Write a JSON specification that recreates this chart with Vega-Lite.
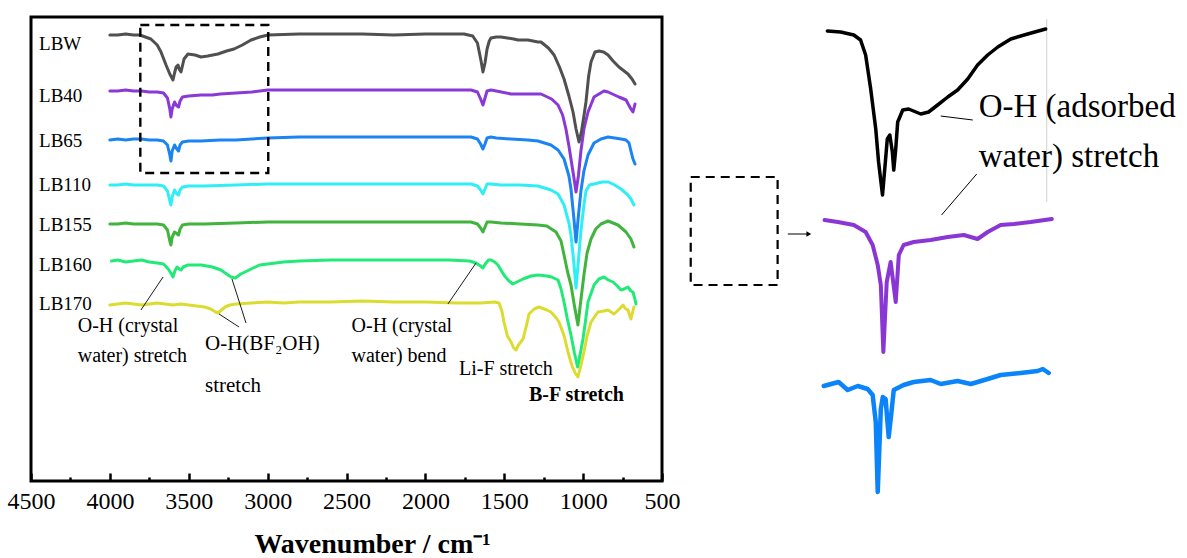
{
"$schema": "https://vega.github.io/schema/vega-lite/v6.json",
"background": "white",
"padding": {"left": 5, "top": 15, "right": 0, "bottom": 0},
"config": {"font": "Liberation Serif", "view": {"stroke": "black", "strokeWidth": 3}, "concat": {"spacing": 0}, "axis": {"labelFont": "Liberation Serif", "titleFont": "Liberation Serif"}},
"resolve": {"scale": {"color": "independent", "strokeWidth": "independent"}},
"datasets": {
"main": [
{"s":"LB170","x":4000,"y":176},{"s":"LB170","x":3950,"y":177},{"s":"LB170","x":3900,"y":178},{"s":"LB170","x":3850,"y":177},{"s":"LB170","x":3800,"y":176},{"s":"LB170","x":3750,"y":177},{"s":"LB170","x":3700,"y":178},{"s":"LB170","x":3650,"y":177},{"s":"LB170","x":3600,"y":176},{"s":"LB170","x":3550,"y":177},{"s":"LB170","x":3500,"y":176},{"s":"LB170","x":3450,"y":175},{"s":"LB170","x":3400,"y":174},{"s":"LB170","x":3360,"y":172},{"s":"LB170","x":3330,"y":169},{"s":"LB170","x":3315,"y":168},{"s":"LB170","x":3300,"y":170},{"s":"LB170","x":3270,"y":174},{"s":"LB170","x":3240,"y":176},{"s":"LB170","x":3200,"y":177},{"s":"LB170","x":3100,"y":178},{"s":"LB170","x":3000,"y":179},{"s":"LB170","x":2900,"y":178},{"s":"LB170","x":2800,"y":179},{"s":"LB170","x":2600,"y":179},{"s":"LB170","x":2400,"y":180},{"s":"LB170","x":2200,"y":179},{"s":"LB170","x":2000,"y":179},{"s":"LB170","x":1800,"y":178},{"s":"LB170","x":1650,"y":178},{"s":"LB170","x":1560,"y":179},{"s":"LB170","x":1533,"y":178},{"s":"LB170","x":1515,"y":170},{"s":"LB170","x":1502,"y":159},{"s":"LB170","x":1480,"y":145},{"s":"LB170","x":1457,"y":139},{"s":"LB170","x":1440,"y":133},{"s":"LB170","x":1426,"y":131},{"s":"LB170","x":1410,"y":136},{"s":"LB170","x":1381,"y":142},{"s":"LB170","x":1360,"y":155},{"s":"LB170","x":1343,"y":167},{"s":"LB170","x":1310,"y":172},{"s":"LB170","x":1280,"y":174},{"s":"LB170","x":1230,"y":171},{"s":"LB170","x":1204,"y":169},{"s":"LB170","x":1170,"y":163},{"s":"LB170","x":1153,"y":159},{"s":"LB170","x":1120,"y":145},{"s":"LB170","x":1096,"y":129},{"s":"LB170","x":1070,"y":115},{"s":"LB170","x":1050,"y":108},{"s":"LB170","x":1033,"y":104},{"s":"LB170","x":1015,"y":115},{"s":"LB170","x":995,"y":129},{"s":"LB170","x":975,"y":145},{"s":"LB170","x":950,"y":159},{"s":"LB170","x":906,"y":169},{"s":"LB170","x":870,"y":170},{"s":"LB170","x":842,"y":171},{"s":"LB170","x":804,"y":167},{"s":"LB170","x":770,"y":172},{"s":"LB170","x":747,"y":176},{"s":"LB170","x":730,"y":172},{"s":"LB170","x":716,"y":171},{"s":"LB170","x":697,"y":162},{"s":"LB170","x":678,"y":174},
{"s":"LB160","x":3990,"y":220},{"s":"LB160","x":3950,"y":221},{"s":"LB160","x":3900,"y":219},{"s":"LB160","x":3850,"y":220},{"s":"LB160","x":3800,"y":221},{"s":"LB160","x":3750,"y":219},{"s":"LB160","x":3700,"y":218},{"s":"LB160","x":3660,"y":217},{"s":"LB160","x":3630,"y":212},{"s":"LB160","x":3610,"y":207},{"s":"LB160","x":3600,"y":204},{"s":"LB160","x":3588,"y":210},{"s":"LB160","x":3574,"y":214},{"s":"LB160","x":3560,"y":212},{"s":"LB160","x":3549,"y":211},{"s":"LB160","x":3535,"y":214},{"s":"LB160","x":3505,"y":216},{"s":"LB160","x":3422,"y":216},{"s":"LB160","x":3350,"y":214},{"s":"LB160","x":3296,"y":211},{"s":"LB160","x":3260,"y":207},{"s":"LB160","x":3232,"y":204},{"s":"LB160","x":3205,"y":203},{"s":"LB160","x":3170,"y":207},{"s":"LB160","x":3130,"y":210},{"s":"LB160","x":3105,"y":212},{"s":"LB160","x":3050,"y":216},{"s":"LB160","x":2998,"y":217},{"s":"LB160","x":2900,"y":219},{"s":"LB160","x":2800,"y":220},{"s":"LB160","x":2600,"y":221},{"s":"LB160","x":2400,"y":221},{"s":"LB160","x":2200,"y":221},{"s":"LB160","x":2000,"y":221},{"s":"LB160","x":1850,"y":221},{"s":"LB160","x":1720,"y":220},{"s":"LB160","x":1679,"y":218},{"s":"LB160","x":1650,"y":215},{"s":"LB160","x":1635,"y":213},{"s":"LB160","x":1620,"y":217},{"s":"LB160","x":1600,"y":221},{"s":"LB160","x":1584,"y":221},{"s":"LB160","x":1560,"y":219},{"s":"LB160","x":1540,"y":216},{"s":"LB160","x":1502,"y":206},{"s":"LB160","x":1470,"y":200},{"s":"LB160","x":1445,"y":197},{"s":"LB160","x":1420,"y":199},{"s":"LB160","x":1381,"y":202},{"s":"LB160","x":1330,"y":205},{"s":"LB160","x":1286,"y":206},{"s":"LB160","x":1230,"y":205},{"s":"LB160","x":1200,"y":204},{"s":"LB160","x":1159,"y":201},{"s":"LB160","x":1140,"y":192},{"s":"LB160","x":1121,"y":179},{"s":"LB160","x":1100,"y":162},{"s":"LB160","x":1077,"y":146},{"s":"LB160","x":1055,"y":128},{"s":"LB160","x":1035,"y":114},{"s":"LB160","x":1015,"y":130},{"s":"LB160","x":1001,"y":142},{"s":"LB160","x":985,"y":160},{"s":"LB160","x":969,"y":179},{"s":"LB160","x":931,"y":196},{"s":"LB160","x":900,"y":202},{"s":"LB160","x":868,"y":204},{"s":"LB160","x":840,"y":201},{"s":"LB160","x":811,"y":199},{"s":"LB160","x":790,"y":196},{"s":"LB160","x":760,"y":191},{"s":"LB160","x":740,"y":192},{"s":"LB160","x":716,"y":194},{"s":"LB160","x":697,"y":190},{"s":"LB160","x":684,"y":189},{"s":"LB160","x":672,"y":182},{"s":"LB160","x":665,"y":177},
{"s":"LB155","x":4000,"y":257},{"s":"LB155","x":3950,"y":257},{"s":"LB155","x":3900,"y":258},{"s":"LB155","x":3850,"y":257},{"s":"LB155","x":3800,"y":257},{"s":"LB155","x":3700,"y":257},{"s":"LB155","x":3660,"y":256},{"s":"LB155","x":3635,"y":251},{"s":"LB155","x":3620,"y":240},{"s":"LB155","x":3613,"y":236},{"s":"LB155","x":3605,"y":244},{"s":"LB155","x":3590,"y":249},{"s":"LB155","x":3580,"y":248},{"s":"LB155","x":3565,"y":246},{"s":"LB155","x":3555,"y":252},{"s":"LB155","x":3540,"y":256},{"s":"LB155","x":3500,"y":257},{"s":"LB155","x":3400,"y":257},{"s":"LB155","x":3200,"y":258},{"s":"LB155","x":3000,"y":259},{"s":"LB155","x":2800,"y":259},{"s":"LB155","x":2600,"y":259},{"s":"LB155","x":2400,"y":259},{"s":"LB155","x":2200,"y":259},{"s":"LB155","x":2000,"y":259},{"s":"LB155","x":1800,"y":259},{"s":"LB155","x":1711,"y":259},{"s":"LB155","x":1670,"y":257},{"s":"LB155","x":1650,"y":253},{"s":"LB155","x":1635,"y":249},{"s":"LB155","x":1622,"y":254},{"s":"LB155","x":1609,"y":259},{"s":"LB155","x":1584,"y":259},{"s":"LB155","x":1521,"y":258},{"s":"LB155","x":1400,"y":257},{"s":"LB155","x":1286,"y":256},{"s":"LB155","x":1230,"y":255},{"s":"LB155","x":1172,"y":249},{"s":"LB155","x":1140,"y":240},{"s":"LB155","x":1121,"y":226},{"s":"LB155","x":1100,"y":210},{"s":"LB155","x":1077,"y":196},{"s":"LB155","x":1055,"y":175},{"s":"LB155","x":1033,"y":156},{"s":"LB155","x":1015,"y":180},{"s":"LB155","x":995,"y":206},{"s":"LB155","x":975,"y":228},{"s":"LB155","x":950,"y":242},{"s":"LB155","x":920,"y":252},{"s":"LB155","x":887,"y":257},{"s":"LB155","x":842,"y":260},{"s":"LB155","x":779,"y":256},{"s":"LB155","x":728,"y":249},{"s":"LB155","x":697,"y":242},{"s":"LB155","x":678,"y":234},
{"s":"LB110","x":4000,"y":296},{"s":"LB110","x":3950,"y":296},{"s":"LB110","x":3900,"y":297},{"s":"LB110","x":3850,"y":296},{"s":"LB110","x":3800,"y":296},{"s":"LB110","x":3700,"y":296},{"s":"LB110","x":3660,"y":295},{"s":"LB110","x":3635,"y":290},{"s":"LB110","x":3620,"y":280},{"s":"LB110","x":3613,"y":276},{"s":"LB110","x":3605,"y":284},{"s":"LB110","x":3590,"y":291},{"s":"LB110","x":3580,"y":288},{"s":"LB110","x":3565,"y":286},{"s":"LB110","x":3555,"y":291},{"s":"LB110","x":3540,"y":294},{"s":"LB110","x":3500,"y":295},{"s":"LB110","x":3400,"y":295},{"s":"LB110","x":3200,"y":296},{"s":"LB110","x":3000,"y":297},{"s":"LB110","x":2800,"y":297},{"s":"LB110","x":2600,"y":297},{"s":"LB110","x":2400,"y":297},{"s":"LB110","x":2200,"y":297},{"s":"LB110","x":2000,"y":297},{"s":"LB110","x":1800,"y":297},{"s":"LB110","x":1711,"y":297},{"s":"LB110","x":1670,"y":295},{"s":"LB110","x":1650,"y":291},{"s":"LB110","x":1635,"y":287},{"s":"LB110","x":1622,"y":292},{"s":"LB110","x":1609,"y":297},{"s":"LB110","x":1584,"y":297},{"s":"LB110","x":1521,"y":296},{"s":"LB110","x":1400,"y":296},{"s":"LB110","x":1286,"y":295},{"s":"LB110","x":1204,"y":291},{"s":"LB110","x":1159,"y":287},{"s":"LB110","x":1121,"y":276},{"s":"LB110","x":1090,"y":258},{"s":"LB110","x":1077,"y":246},{"s":"LB110","x":1060,"y":220},{"s":"LB110","x":1045,"y":193},{"s":"LB110","x":1030,"y":220},{"s":"LB110","x":1014,"y":250},{"s":"LB110","x":995,"y":276},{"s":"LB110","x":982,"y":290},{"s":"LB110","x":960,"y":296},{"s":"LB110","x":931,"y":297},{"s":"LB110","x":880,"y":299},{"s":"LB110","x":840,"y":299},{"s":"LB110","x":800,"y":296},{"s":"LB110","x":760,"y":292},{"s":"LB110","x":716,"y":286},{"s":"LB110","x":697,"y":282},{"s":"LB110","x":678,"y":276},
{"s":"LB65","x":4000,"y":341},{"s":"LB65","x":3950,"y":342},{"s":"LB65","x":3900,"y":341},{"s":"LB65","x":3850,"y":342},{"s":"LB65","x":3800,"y":342},{"s":"LB65","x":3750,"y":341},{"s":"LB65","x":3700,"y":341},{"s":"LB65","x":3660,"y":340},{"s":"LB65","x":3635,"y":336},{"s":"LB65","x":3620,"y":326},{"s":"LB65","x":3613,"y":320},{"s":"LB65","x":3605,"y":330},{"s":"LB65","x":3590,"y":336},{"s":"LB65","x":3580,"y":333},{"s":"LB65","x":3565,"y":330},{"s":"LB65","x":3555,"y":336},{"s":"LB65","x":3540,"y":339},{"s":"LB65","x":3500,"y":340},{"s":"LB65","x":3422,"y":340},{"s":"LB65","x":3300,"y":341},{"s":"LB65","x":3200,"y":341},{"s":"LB65","x":3100,"y":342},{"s":"LB65","x":3000,"y":343},{"s":"LB65","x":2800,"y":344},{"s":"LB65","x":2600,"y":344},{"s":"LB65","x":2400,"y":344},{"s":"LB65","x":2200,"y":344},{"s":"LB65","x":2000,"y":344},{"s":"LB65","x":1800,"y":344},{"s":"LB65","x":1711,"y":344},{"s":"LB65","x":1670,"y":342},{"s":"LB65","x":1650,"y":337},{"s":"LB65","x":1635,"y":332},{"s":"LB65","x":1622,"y":337},{"s":"LB65","x":1609,"y":343},{"s":"LB65","x":1584,"y":344},{"s":"LB65","x":1550,"y":343},{"s":"LB65","x":1457,"y":342},{"s":"LB65","x":1350,"y":341},{"s":"LB65","x":1286,"y":340},{"s":"LB65","x":1204,"y":336},{"s":"LB65","x":1159,"y":331},{"s":"LB65","x":1121,"y":322},{"s":"LB65","x":1090,"y":305},{"s":"LB65","x":1077,"y":292},{"s":"LB65","x":1060,"y":265},{"s":"LB65","x":1045,"y":239},{"s":"LB65","x":1030,"y":265},{"s":"LB65","x":1014,"y":290},{"s":"LB65","x":995,"y":310},{"s":"LB65","x":969,"y":326},{"s":"LB65","x":931,"y":338},{"s":"LB65","x":887,"y":342},{"s":"LB65","x":842,"y":344},{"s":"LB65","x":800,"y":343},{"s":"LB65","x":760,"y":342},{"s":"LB65","x":728,"y":341},{"s":"LB65","x":709,"y":338},{"s":"LB65","x":697,"y":330},{"s":"LB65","x":684,"y":322},{"s":"LB65","x":671,"y":317},
{"s":"LB40","x":4000,"y":390},{"s":"LB40","x":3950,"y":390},{"s":"LB40","x":3900,"y":391},{"s":"LB40","x":3850,"y":390},{"s":"LB40","x":3800,"y":390},{"s":"LB40","x":3750,"y":389},{"s":"LB40","x":3700,"y":389},{"s":"LB40","x":3660,"y":388},{"s":"LB40","x":3635,"y":383},{"s":"LB40","x":3620,"y":372},{"s":"LB40","x":3613,"y":364},{"s":"LB40","x":3605,"y":372},{"s":"LB40","x":3590,"y":379},{"s":"LB40","x":3580,"y":376},{"s":"LB40","x":3565,"y":374},{"s":"LB40","x":3555,"y":380},{"s":"LB40","x":3540,"y":384},{"s":"LB40","x":3500,"y":385},{"s":"LB40","x":3422,"y":386},{"s":"LB40","x":3350,"y":386},{"s":"LB40","x":3300,"y":387},{"s":"LB40","x":3200,"y":388},{"s":"LB40","x":3100,"y":389},{"s":"LB40","x":3000,"y":391},{"s":"LB40","x":2800,"y":391},{"s":"LB40","x":2600,"y":391},{"s":"LB40","x":2400,"y":391},{"s":"LB40","x":2200,"y":391},{"s":"LB40","x":2000,"y":391},{"s":"LB40","x":1800,"y":391},{"s":"LB40","x":1711,"y":391},{"s":"LB40","x":1670,"y":389},{"s":"LB40","x":1650,"y":382},{"s":"LB40","x":1635,"y":376},{"s":"LB40","x":1622,"y":383},{"s":"LB40","x":1609,"y":390},{"s":"LB40","x":1584,"y":391},{"s":"LB40","x":1550,"y":390},{"s":"LB40","x":1457,"y":387},{"s":"LB40","x":1350,"y":387},{"s":"LB40","x":1267,"y":387},{"s":"LB40","x":1200,"y":382},{"s":"LB40","x":1159,"y":376},{"s":"LB40","x":1130,"y":366},{"s":"LB40","x":1109,"y":352},{"s":"LB40","x":1090,"y":335},{"s":"LB40","x":1077,"y":322},{"s":"LB40","x":1060,"y":305},{"s":"LB40","x":1045,"y":289},{"s":"LB40","x":1030,"y":305},{"s":"LB40","x":1014,"y":330},{"s":"LB40","x":995,"y":352},{"s":"LB40","x":969,"y":369},{"s":"LB40","x":931,"y":384},{"s":"LB40","x":868,"y":390},{"s":"LB40","x":842,"y":389},{"s":"LB40","x":773,"y":384},{"s":"LB40","x":728,"y":381},{"s":"LB40","x":697,"y":372},{"s":"LB40","x":684,"y":369},{"s":"LB40","x":671,"y":377},
{"s":"LBW","x":4000,"y":446},{"s":"LBW","x":3950,"y":446},{"s":"LBW","x":3900,"y":447},{"s":"LBW","x":3850,"y":446},{"s":"LBW","x":3810,"y":446},{"s":"LBW","x":3740,"y":442},{"s":"LBW","x":3700,"y":436},{"s":"LBW","x":3676,"y":429},{"s":"LBW","x":3644,"y":416},{"s":"LBW","x":3620,"y":407},{"s":"LBW","x":3600,"y":401},{"s":"LBW","x":3590,"y":408},{"s":"LBW","x":3580,"y":414},{"s":"LBW","x":3568,"y":416},{"s":"LBW","x":3558,"y":411},{"s":"LBW","x":3549,"y":409},{"s":"LBW","x":3530,"y":422},{"s":"LBW","x":3505,"y":427},{"s":"LBW","x":3460,"y":426},{"s":"LBW","x":3422,"y":424},{"s":"LBW","x":3380,"y":425},{"s":"LBW","x":3315,"y":427},{"s":"LBW","x":3260,"y":430},{"s":"LBW","x":3213,"y":432},{"s":"LBW","x":3160,"y":436},{"s":"LBW","x":3105,"y":441},{"s":"LBW","x":3050,"y":444},{"s":"LBW","x":2998,"y":446},{"s":"LBW","x":2800,"y":447},{"s":"LBW","x":2600,"y":447},{"s":"LBW","x":2400,"y":447},{"s":"LBW","x":2200,"y":446},{"s":"LBW","x":2000,"y":447},{"s":"LBW","x":1850,"y":447},{"s":"LBW","x":1755,"y":447},{"s":"LBW","x":1700,"y":445},{"s":"LBW","x":1670,"y":438},{"s":"LBW","x":1647,"y":420},{"s":"LBW","x":1635,"y":409},{"s":"LBW","x":1622,"y":418},{"s":"LBW","x":1609,"y":432},{"s":"LBW","x":1595,"y":440},{"s":"LBW","x":1584,"y":443},{"s":"LBW","x":1550,"y":444},{"s":"LBW","x":1521,"y":444},{"s":"LBW","x":1480,"y":443},{"s":"LBW","x":1440,"y":442},{"s":"LBW","x":1413,"y":441},{"s":"LBW","x":1350,"y":441},{"s":"LBW","x":1286,"y":439},{"s":"LBW","x":1267,"y":439},{"s":"LBW","x":1220,"y":433},{"s":"LBW","x":1184,"y":426},{"s":"LBW","x":1150,"y":414},{"s":"LBW","x":1121,"y":402},{"s":"LBW","x":1090,"y":385},{"s":"LBW","x":1064,"y":369},{"s":"LBW","x":1045,"y":352},{"s":"LBW","x":1026,"y":339},{"s":"LBW","x":1010,"y":350},{"s":"LBW","x":995,"y":365},{"s":"LBW","x":982,"y":379},{"s":"LBW","x":965,"y":405},{"s":"LBW","x":950,"y":419},{"s":"LBW","x":925,"y":429},{"s":"LBW","x":899,"y":430},{"s":"LBW","x":870,"y":429},{"s":"LBW","x":842,"y":426},{"s":"LBW","x":810,"y":420},{"s":"LBW","x":773,"y":414},{"s":"LBW","x":740,"y":410},{"s":"LBW","x":716,"y":407},{"s":"LBW","x":690,"y":402},{"s":"LBW","x":671,"y":397}
],
"labels": [{"t":"LBW","x":4449,"y":431},{"t":"LB40","x":4449,"y":379},{"t":"LB65","x":4449,"y":334},{"t":"LB110","x":4449,"y":290},{"t":"LB155","x":4449,"y":250},{"t":"LB160","x":4449,"y":210},{"t":"LB170","x":4449,"y":171}],
"notes": [{"t":"O-H (crystal","x":4204,"y":149},{"t":"water) stretch","x":4204,"y":119},{"t":"O-H (crystal","x":2468,"y":149},{"t":"water) bend","x":2468,"y":119},{"t":"Li-F stretch","x":1787,"y":106}],
"notes2": [{"t":"O-H(BF₂OH)","x":3397,"y":131},{"t":"stretch","x":3397,"y":89}],
"bold": [{"t":"B-F stretch","x":1343,"y":80}],
"leaders": [{"x":3803,"y":171,"x2":3663,"y2":204},{"x":3181,"y":154,"x2":3308,"y2":167},{"x":3137,"y":158,"x2":3226,"y2":202},{"x":1857,"y":177,"x2":1679,"y2":218}],
"box": [{"x":3807,"x2":2996,"y":456,"y2":308}],
"inset": [
{"s":"BK","x":3794,"y":466},{"s":"BK","x":3747,"y":465},{"s":"BK","x":3700,"y":462},{"s":"BK","x":3676,"y":457},{"s":"BK","x":3658,"y":442},{"s":"BK","x":3640,"y":408},{"s":"BK","x":3622,"y":368},{"s":"BK","x":3612,"y":335},{"s":"BK","x":3598,"y":302},{"s":"BK","x":3590,"y":328},{"s":"BK","x":3581,"y":358},{"s":"BK","x":3572,"y":362},{"s":"BK","x":3563,"y":345},{"s":"BK","x":3558,"y":327},{"s":"BK","x":3551,"y":348},{"s":"BK","x":3544,"y":375},{"s":"BK","x":3526,"y":387},{"s":"BK","x":3505,"y":388},{"s":"BK","x":3462,"y":383},{"s":"BK","x":3434,"y":385},{"s":"BK","x":3402,"y":392},{"s":"BK","x":3366,"y":400},{"s":"BK","x":3331,"y":407},{"s":"BK","x":3295,"y":418},{"s":"BK","x":3260,"y":432},{"s":"BK","x":3224,"y":442},{"s":"BK","x":3188,"y":450},{"s":"BK","x":3142,"y":458},{"s":"BK","x":3082,"y":463},{"s":"BK","x":3018,"y":468},
{"s":"PU","x":3804,"y":277},{"s":"PU","x":3757,"y":275},{"s":"PU","x":3700,"y":272},{"s":"PU","x":3658,"y":265},{"s":"PU","x":3633,"y":252},{"s":"PU","x":3615,"y":232},{"s":"PU","x":3604,"y":212},{"s":"PU","x":3595,"y":145},{"s":"PU","x":3583,"y":215},{"s":"PU","x":3569,"y":235},{"s":"PU","x":3551,"y":195},{"s":"PU","x":3540,"y":242},{"s":"PU","x":3523,"y":252},{"s":"PU","x":3487,"y":255},{"s":"PU","x":3427,"y":257},{"s":"PU","x":3366,"y":260},{"s":"PU","x":3309,"y":262},{"s":"PU","x":3260,"y":258},{"s":"PU","x":3224,"y":265},{"s":"PU","x":3178,"y":272},{"s":"PU","x":3131,"y":273},{"s":"PU","x":3071,"y":275},{"s":"PU","x":2996,"y":278},
{"s":"BL","x":3807,"y":111},{"s":"BL","x":3754,"y":115},{"s":"BL","x":3722,"y":107},{"s":"BL","x":3686,"y":111},{"s":"BL","x":3651,"y":108},{"s":"BL","x":3633,"y":102},{"s":"BL","x":3622,"y":75},{"s":"BL","x":3615,"y":5},{"s":"BL","x":3604,"y":88},{"s":"BL","x":3597,"y":100},{"s":"BL","x":3587,"y":98},{"s":"BL","x":3576,"y":60},{"s":"BL","x":3565,"y":88},{"s":"BL","x":3558,"y":107},{"s":"BL","x":3523,"y":112},{"s":"BL","x":3487,"y":115},{"s":"BL","x":3427,"y":117},{"s":"BL","x":3391,"y":113},{"s":"BL","x":3331,"y":116},{"s":"BL","x":3284,"y":113},{"s":"BL","x":3224,"y":118},{"s":"BL","x":3178,"y":122},{"s":"BL","x":3107,"y":124},{"s":"BL","x":3046,"y":126},{"s":"BL","x":3028,"y":128},{"s":"BL","x":3007,"y":124}
],
"itext": [{"t":"O-H (adsorbed","x":3256,"y":380},{"t":"water) stretch","x":3256,"y":330}],
"ileaders": [{"x":3391,"y":381,"x2":3277,"y2":377},{"x":3263,"y":323,"x2":3388,"y2":282},{"x":3935,"y":263,"x2":3866,"y2":263}],
"igray": [{"x":3014,"y":295,"y2":478}],
"ibox": [{"x":4280,"x2":3971,"y":320,"y2":212}],
"iarrow": [{"x":3860,"y":263}]
},
"hconcat": [
{
"width": 631, "height": 464,
"encoding": {
"x": {"field": "x", "type": "quantitative", "scale": {"domain": [500, 4500], "reverse": true, "nice": false, "zero": false},
"axis": {"values": [4500,4250,4000,3750,3500,3250,3000,2750,2500,2250,2000,1750,1500,1250,1000,750,500], "format": "d",
"labelExpr": "datum.value % 500 == 0 ? datum.label : ''", "domain": false, "grid": false,
"tickColor": "black", "tickWidth": 2.5, "tickSize": {"condition": {"test": "datum.value % 500 != 0", "value": -4}, "value": -8},
"labelFont": "Liberation Serif", "labelFontSize": 24, "labelColor": "black", "labelPadding": 16, "labelDx": 4,
"labelFlush": false, "labelOverlap": false, "labelBound": false,
"title": "Wavenumber / cm⁻¹", "titleFont": "Liberation Serif", "titleFontSize": 28, "titleFontWeight": "bold", "titleColor": "black", "titlePadding": 13, "titleX": 341}},
"y": {"field": "y", "type": "quantitative", "scale": {"domain": [0, 464], "nice": false, "zero": false}, "axis": null}
},
"layer": [
{"data": {"name": "main"}, "mark": {"type": "line", "strokeWidth": 3, "strokeJoin": "round", "strokeCap": "round"},
"encoding": {"color": {"field": "s", "type": "nominal", "legend": null, "sort": null,
"scale": {"domain": ["LB170","LB160","LB155","LB110","LB65","LB40","LBW"], "range": ["#dcdc30","#22ea78","#40b43c","#30eef6","#1c84f2","#8a38d6","#505050"]}}}},
{"data": {"name": "box"}, "mark": {"type": "rect", "fill": null, "stroke": "black", "strokeWidth": 2.4, "strokeDash": [9, 6]},
"encoding": {"x2": {"field": "x2"}, "y2": {"field": "y2"}}},
{"data": {"name": "leaders"}, "mark": {"type": "rule", "color": "black", "strokeWidth": 0.9},
"encoding": {"x2": {"field": "x2"}, "y2": {"field": "y2"}}},
{"data": {"name": "labels"}, "mark": {"type": "text", "align": "left", "baseline": "alphabetic", "fontSize": 19, "font": "Liberation Serif", "color": "black"},
"encoding": {"text": {"field": "t"}}},
{"data": {"name": "notes"}, "mark": {"type": "text", "align": "left", "baseline": "alphabetic", "fontSize": 20, "font": "Liberation Serif", "color": "black"},
"encoding": {"text": {"field": "t"}}},
{"data": {"name": "notes2"}, "mark": {"type": "text", "align": "left", "baseline": "alphabetic", "fontSize": 21, "font": "Liberation Serif", "color": "black"},
"encoding": {"text": {"field": "t"}}},
{"data": {"name": "bold"}, "mark": {"type": "text", "align": "left", "baseline": "alphabetic", "fontSize": 20, "fontWeight": "bold", "font": "Liberation Serif", "color": "black"},
"encoding": {"text": {"field": "t"}}}
]
},
{
"width": 500, "height": 480,
"view": {"stroke": null},
"encoding": {
"x": {"field": "x", "type": "quantitative", "scale": {"domain": [2533, 4311], "reverse": true, "nice": false, "zero": false}, "axis": null},
"y": {"field": "y", "type": "quantitative", "scale": {"domain": [0, 480], "nice": false, "zero": false}, "axis": null}
},
"layer": [
{"data": {"name": "igray"}, "mark": {"type": "rule", "color": "#d0d0d0", "strokeWidth": 1},
"encoding": {"y2": {"field": "y2"}}},
{"data": {"name": "inset"}, "mark": {"type": "line", "strokeJoin": "round", "strokeCap": "round"},
"encoding": {"color": {"field": "s", "type": "nominal", "legend": null, "scale": {"domain": ["BK","PU","BL"], "range": ["#000000","#8a36d4","#0a84f8"]}},
"strokeWidth": {"field": "s", "type": "nominal", "legend": null, "scale": {"domain": ["BK","PU","BL"], "range": [3.5, 4.5, 5]}}}},
{"data": {"name": "ibox"}, "mark": {"type": "rect", "fill": null, "stroke": "black", "strokeWidth": 2.2, "strokeDash": [9, 6]},
"encoding": {"x2": {"field": "x2"}, "y2": {"field": "y2"}}},
{"data": {"name": "ileaders"}, "mark": {"type": "rule", "color": "black", "strokeWidth": 1},
"encoding": {"x2": {"field": "x2"}, "y2": {"field": "y2"}}},
{"data": {"name": "iarrow"}, "mark": {"type": "point", "shape": "triangle-right", "filled": true, "color": "black", "size": 30, "opacity": 1},
"encoding": {}},
{"data": {"name": "itext"}, "mark": {"type": "text", "align": "left", "baseline": "alphabetic", "fontSize": 33, "font": "Liberation Serif", "color": "black"},
"encoding": {"text": {"field": "t"}}}
]
}
]
}
